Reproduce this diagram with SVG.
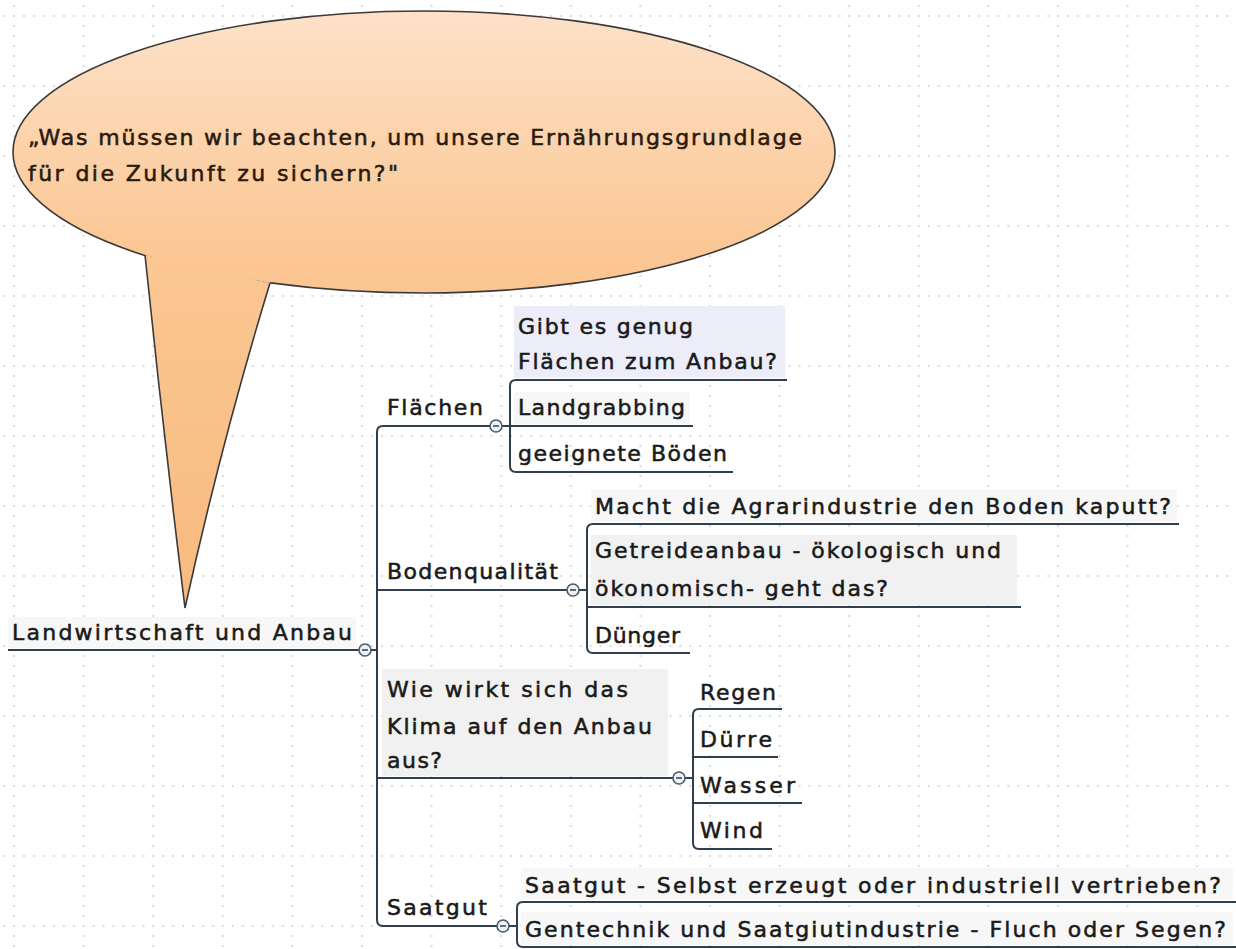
<svg xmlns="http://www.w3.org/2000/svg" width="1236" height="949" viewBox="0 0 1236 949">
<defs>
<pattern id="grid" x="13" y="15" width="69.6" height="70" patternUnits="userSpaceOnUse">
<path d="M0 1 H69.6" stroke="#dadada" stroke-width="2" stroke-dasharray="2 8" fill="none"/>
<path d="M1 0 V70" stroke="#dadada" stroke-width="2" stroke-dasharray="2 8" fill="none"/>
</pattern>
<linearGradient id="peach" x1="0" y1="11" x2="0" y2="610" gradientUnits="userSpaceOnUse">
<stop offset="0" stop-color="#fde1c8"/>
<stop offset="0.4" stop-color="#fbc794"/>
<stop offset="1" stop-color="#f8ba7e"/>
</linearGradient>
<style>
.t{font-family:"DejaVu Sans","Liberation Sans",sans-serif;font-size:22px;fill:#1a1a1a;stroke:#1a1a1a;stroke-width:0.55}
.b{font-family:"DejaVu Sans","Liberation Sans",sans-serif;font-size:22px;fill:#2a1a0c;stroke:#2a1a0c;stroke-width:0.55}
.ln{fill:none;stroke:#2f3f50;stroke-width:2}
.cc{fill:#eef2f6;stroke:#4a5a6a;stroke-width:1.6}
.mn{stroke:#3a4a5a;stroke-width:1.6}
.bg{fill:#f1f1f1}
.bgl{fill:#f7f7f7}
</style>
</defs>
<rect width="1236" height="949" fill="#ffffff"/>
<rect width="1236" height="949" fill="url(#grid)"/>

<g id="callout">
<ellipse cx="424" cy="152" rx="411" ry="141" fill="url(#peach)" stroke="#3a3a3a" stroke-width="1.6"/>
<path d="M145 255 Q163 430 185 608 Q222 440 270 283 Z" fill="url(#peach)"/>
<path d="M142 240 L145 255 L270 283 L275 270 Z" fill="url(#peach)"/>
<path d="M145 255 Q163 430 185 608 Q222 440 270 283" fill="none" stroke="#3a3a3a" stroke-width="1.6"/>
<text class="b" x="28" y="145" textLength="774" lengthAdjust="spacing">„Was müssen wir beachten, um unsere Ernährungsgrundlage</text>
<text class="b" x="28" y="181" textLength="370" lengthAdjust="spacing">für die Zukunft zu sichern?"</text>
</g>

<g id="connectors">
<path class="ln" d="M8 650 H359"/>
<path class="ln" d="M371 650 H377"/>
<path class="ln" d="M490 426 H383 Q377 426 377 432 V920 Q377 926 383 926 H497"/>
<path class="ln" d="M377 590 H567"/>
<path class="ln" d="M377 778 H673"/>
<path class="ln" d="M502 426 H510"/>
<path class="ln" d="M787 380 H516 Q510 380 510 386 V466 Q510 472 516 472 H733"/>
<path class="ln" d="M510 426 H693"/>
<path class="ln" d="M579 590 H587"/>
<path class="ln" d="M1179 524 H593 Q587 524 587 530 V647 Q587 653 593 653 H690"/>
<path class="ln" d="M587 607 H1021"/>
<path class="ln" d="M685 778 H693"/>
<path class="ln" d="M782 709 H699 Q693 709 693 715 V843 Q693 849 699 849 H772"/>
<path class="ln" d="M693 757 H778"/>
<path class="ln" d="M693 803 H802"/>
<path class="ln" d="M509 926 H517"/>
<path class="ln" d="M1236 902 H523 Q517 902 517 908 V941 Q517 947 523 947 H1236"/>
</g>

<g id="root">
<rect class="bgl" x="8" y="617" width="348" height="31"/>
<text class="t" x="12" y="640" textLength="340" lengthAdjust="spacing">Landwirtschaft und Anbau</text>
<circle class="cc" cx="365" cy="650" r="6"/>
<path class="mn" d="M362 650 H368"/>
</g>

<g id="flaechen">
<text class="t" x="387" y="415" textLength="96" lengthAdjust="spacing">Flächen</text>
<circle class="cc" cx="496" cy="426" r="6"/>
<path class="mn" d="M493 426 H499"/>
</g>
<g id="genug">
<rect x="514" y="306" width="271" height="72" fill="#ededf9"/>
<text class="t" x="518" y="334" textLength="175" lengthAdjust="spacing">Gibt es genug</text>
<text class="t" x="518" y="369" textLength="259" lengthAdjust="spacing">Flächen zum Anbau?</text>
</g>
<g id="landgrabbing">
<rect class="bgl" x="514" y="392" width="176" height="32"/>
<text class="t" x="518" y="415" textLength="167" lengthAdjust="spacing">Landgrabbing</text>
</g>
<g id="boeden">
<text class="t" x="518" y="461" textLength="209" lengthAdjust="spacing">geeignete Böden</text>
</g>

<g id="bodenqualitaet">
<text class="t" x="387" y="579" textLength="171" lengthAdjust="spacing">Bodenqualität</text>
<circle class="cc" cx="573" cy="590" r="6"/>
<path class="mn" d="M570 590 H576"/>
</g>
<g id="agrarindustrie">
<rect class="bgl" x="591" y="490" width="586" height="32"/>
<text class="t" x="595" y="514" textLength="576" lengthAdjust="spacing">Macht die Agrarindustrie den Boden kaputt?</text>
</g>
<g id="getreideanbau">
<rect class="bg" x="591" y="535" width="426" height="70"/>
<text class="t" x="595" y="558" textLength="406" lengthAdjust="spacing">Getreideanbau - ökologisch und</text>
<text class="t" x="595" y="596" textLength="293" lengthAdjust="spacing">ökonomisch- geht das?</text>
</g>
<g id="duenger">
<text class="t" x="595" y="643" textLength="85" lengthAdjust="spacing">Dünger</text>
</g>

<g id="klima">
<rect class="bg" x="382" y="669" width="286" height="107"/>
<text class="t" x="387" y="697" textLength="241" lengthAdjust="spacing">Wie wirkt sich das</text>
<text class="t" x="387" y="734" textLength="265" lengthAdjust="spacing">Klima auf den Anbau</text>
<text class="t" x="387" y="768" textLength="55" lengthAdjust="spacing">aus?</text>
<circle class="cc" cx="679" cy="778" r="6"/>
<path class="mn" d="M676 778 H682"/>
</g>
<g id="regen">
<text class="t" x="700" y="700" textLength="76" lengthAdjust="spacing">Regen</text>
</g>
<g id="duerre">
<text class="t" x="700" y="747" textLength="72" lengthAdjust="spacing">Dürre</text>
</g>
<g id="wasser">
<text class="t" x="700" y="793" textLength="95" lengthAdjust="spacing">Wasser</text>
</g>
<g id="wind">
<text class="t" x="700" y="838" textLength="63" lengthAdjust="spacing">Wind</text>
</g>

<g id="saatgut">
<text class="t" x="387" y="915" textLength="100" lengthAdjust="spacing">Saatgut</text>
<circle class="cc" cx="503" cy="926" r="6"/>
<path class="mn" d="M500 926 H506"/>
</g>
<g id="selbst">
<rect class="bgl" x="521" y="868" width="712" height="32"/>
<text class="t" x="525" y="893" textLength="696" lengthAdjust="spacing">Saatgut - Selbst erzeugt oder industriell vertrieben?</text>
</g>
<g id="gentechnik">
<rect class="bgl" x="521" y="912" width="712" height="33"/>
<text class="t" x="525" y="937" textLength="701" lengthAdjust="spacing">Gentechnik und Saatgiutindustrie - Fluch oder Segen?</text>
</g>
</svg>
